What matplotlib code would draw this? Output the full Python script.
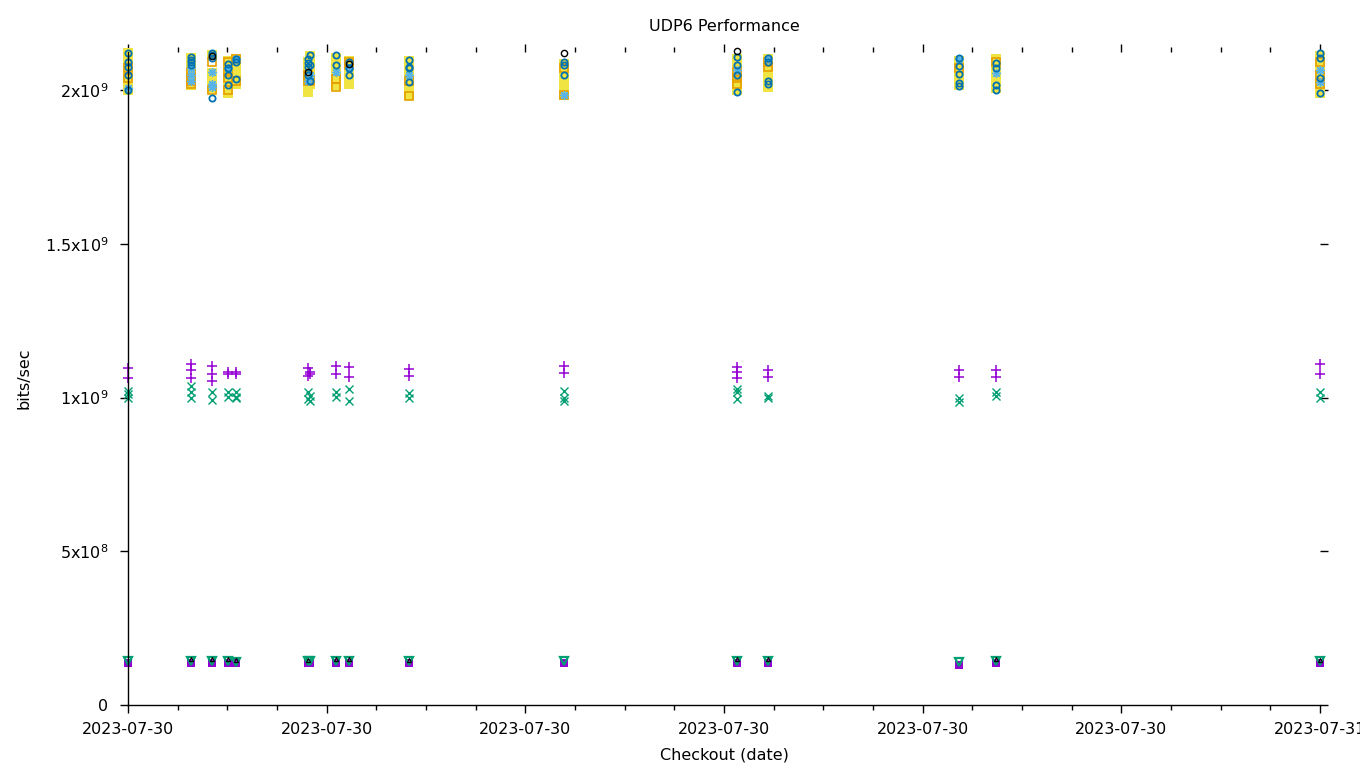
import matplotlib
matplotlib.use("Agg")
import matplotlib.pyplot as plt

# hours after 2023-07-30 00:00 for each checkout run
run_hours = [0.0, 1.27, 1.69, 2.02, 2.18, 3.63, 3.67, 4.19, 4.45, 5.66,
             8.77, 12.27, 12.88, 16.73, 17.47, 24.0]

# values in units of 1e9 bits/sec, one list per run
purple_plus = [[1.096, 1.063], [1.109, 1.089, 1.063], [1.102, 1.076, 1.054],
               [1.083, 1.075], [1.083, 1.075], [1.096, 1.070], [1.083, 1.076],
               [1.102, 1.076], [1.100, 1.067], [1.093, 1.070], [1.102, 1.080],
               [1.099, 1.083, 1.063], [1.089, 1.067], [1.089, 1.067],
               [1.089, 1.067], [1.109, 1.076]]
green_cross = [[1.020, 1.010, 1.000], [1.037, 1.018, 0.998], [1.018, 0.992],
               [1.018, 1.003], [1.018, 1.003, 0.998], [1.018, 0.995],
               [1.005, 0.990], [1.018, 1.003], [1.028, 0.988], [1.015, 0.998],
               [1.020, 1.000, 0.990], [1.028, 1.018, 0.995], [1.005, 0.998],
               [0.998, 0.985], [1.018, 1.005], [1.018, 1.000]]
yellow_sq = [[2.12, 2.1, 2.09, 2.075, 2.06, 2.045, 2.03, 2.0],
             [2.105, 2.09, 2.08, 2.07, 2.055, 2.04, 2.025, 2.015],
             [2.115, 2.055, 2.045, 2.035, 2.02, 2.005],
             [2.095, 2.08, 2.07, 2.06, 2.05, 2.04, 2.02, 2.0, 1.99],
             [2.1, 2.085, 2.075, 2.06, 2.045, 2.03, 2.02],
             [2.09, 2.08, 2.07, 2.05, 2.04, 2.03, 2.01, 1.995],
             [2.11, 2.08, 2.06, 2.04, 2.02],
             [2.105, 2.08, 2.07, 2.06, 2.04, 2.03, 2.015],
             [2.095, 2.08, 2.06, 2.05, 2.04, 2.02],
             [2.095, 2.07, 2.06, 2.04, 2.02, 2.01, 1.985],
             [2.085, 2.06, 2.045, 2.03, 2.02, 2.0, 1.985],
             [2.1, 2.08, 2.07, 2.06, 2.04, 2.03, 2.02, 2.0],
             [2.1, 2.08, 2.07, 2.06, 2.05, 2.04, 2.02, 2.01],
             [2.095, 2.08, 2.06, 2.05, 2.04, 2.025, 2.015],
             [2.1, 2.085, 2.07, 2.05, 2.04, 2.03, 2.005],
             [2.11, 2.09, 2.08, 2.07, 2.06, 2.05, 2.03, 2.0, 1.99]]
orange_sq = [[2.07, 2.04], [2.06, 2.04, 2.03, 2.02], [2.09, 2.0],
             [2.09, 2.06, 2.04, 2.0], [2.1, 2.03], [2.05, 2.03], [2.03],
             [2.035, 2.01], [2.09, 2.08], [2.03, 1.98], [2.07, 1.985],
             [2.06, 2.04, 2.02], [2.09, 2.075], [2.07], [2.09],
             [2.09, 2.05, 2.02]]
blue_star = [[2.005], [2.07, 2.05, 2.03], [2.01, 2.06, 2.02], [2.07], [2.1],
             [2.03], [2.05], [2.06], [2.07], [2.05], [1.985], [2.065], [2.1],
             [2.1], [2.055], [2.065, 2.025]]
blue_circ = [[2.12, 2.09, 2.075, 2.05, 2.0], [2.107, 2.097, 2.09, 2.08],
             [2.12, 2.113, 2.105, 1.974], [2.085, 2.07, 2.05, 2.015],
             [2.1, 2.09, 2.035], [2.1, 2.088, 2.075, 2.05], [2.115, 2.08, 2.03],
             [2.115, 2.08], [2.09, 2.07, 2.05], [2.097, 2.075, 2.07, 2.025],
             [2.09, 2.08, 2.05], [2.107, 2.08, 2.05, 1.993],
             [2.104, 2.09, 2.03, 2.02], [2.104, 2.078, 2.052, 2.023, 2.013],
             [2.088, 2.072, 2.016, 2.0], [2.12, 2.104, 2.039, 1.99]]
black_circ = [[], [], [2.11], [], [], [2.06], [], [], [2.085], [], [2.12],
              [2.127], [], [], [], []]
purple_tri = [[0.137], [0.138], [0.138], [0.138], [0.136], [0.137], [0.137],
              [0.138], [0.138], [0.137], [0.137], [0.138], [0.137], [0.131],
              [0.136], [0.138]]
green_tri = [[0.142], [0.143], [0.143], [0.143], [0.141], [0.142], [0.142],
             [0.143], [0.143], [0.142], [0.142], [0.143], [0.142], [0.140],
             [0.142], [0.143]]
black_tri = [[], [0.148], [0.148], [0.148], [0.147], [0.147], [], [0.148],
             [0.148], [0.147], [], [0.148], [0.148], [], [0.148], [0.147]]

xtick_labels = ["2023-07-30"] * 6 + ["2023-07-31"]
ytick_labels = ["0", r"5x10$^{8}$", r"1x10$^{9}$", r"1.5x10$^{9}$", r"2x10$^{9}$"]


def flat(groups):
    xs, ys = [], []
    for h, vals in zip(run_hours, groups):
        for v in vals:
            xs.append(h)
            ys.append(v * 1e9)
    return xs, ys


fig = plt.figure(figsize=(13.6, 7.68), dpi=100)
ax = fig.add_axes([128 / 1360, 63 / 768, 1192 / 1360, 653 / 768])

styles = [
    (purple_plus, dict(marker="+", color="#9400d3", ms=7, mew=1.1)),
    (green_cross, dict(marker="x", color="#009e73", ms=5.5, mew=1.0)),
    (yellow_sq, dict(marker="s", color="#f0e442", ms=6.5, mew=0)),
    (orange_sq, dict(marker="s", mfc="none", mec="#e69f00", ms=5.5, mew=1.2)),
    (blue_star, dict(marker=(8, 2, 0), color="#56b4e9", ms=6.5, mew=1.0)),
    (blue_circ, dict(marker="o", mfc="none", mec="#0072b2", ms=4.5, mew=1.3)),
    (black_circ, dict(marker="o", mfc="none", mec="black", ms=4.5, mew=1.0)),
    (purple_tri, dict(marker="s", color="#9400d3", ms=6, mew=0)),
    (green_tri, dict(marker="v", mfc="none", mec="#009e73", ms=6, mew=1.6)),
    (black_tri, dict(marker="^", mfc="none", mec="black", ms=3, mew=0.8)),
]
for groups, st in styles:
    xs, ys = flat(groups)
    ax.plot(xs, ys, linestyle="none", clip_on=False, **st)

ax.set_xlim(0, 24)
ax.set_ylim(0, 2.1236e9)
ax.set_xticks(range(0, 25, 4))
ax.set_xticks(range(0, 25, 1), minor=True)
ax.set_xticklabels(xtick_labels)
ax.set_yticks([0, 5e8, 1e9, 1.5e9, 2e9])
ax.set_yticklabels(ytick_labels)

for s in ["top", "right"]:
    ax.spines[s].set_visible(False)
for s in ["left", "bottom"]:
    ax.spines[s].set_linewidth(1.0)

ax.tick_params(which="both", direction="out", top=True, right=True,
               labelsize=11.5, width=1.0)
ax.tick_params(axis="x", which="major", length=6, pad=6)
ax.tick_params(axis="y", which="major", length=6, pad=8)
ax.tick_params(which="minor", length=3.5)
ax.tick_params(axis="y", which="minor", left=False, right=False)

ax.set_title("UDP6 Performance", fontsize=11.5, pad=15)
ax.set_xlabel("Checkout (date)", fontsize=11.5, labelpad=8)
ax.set_ylabel("bits/sec", fontsize=11.5, labelpad=9.5)

fig.savefig("out.png", dpi=100)
